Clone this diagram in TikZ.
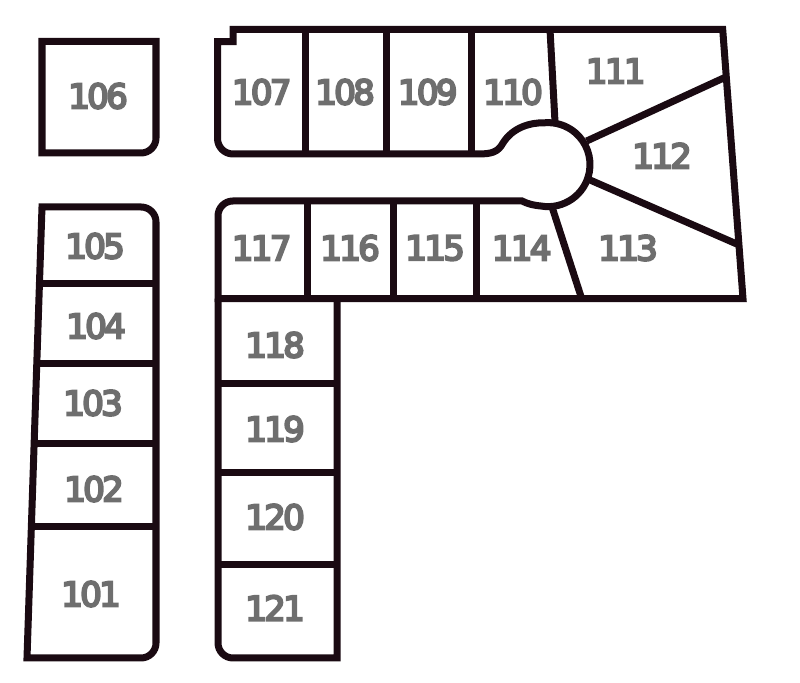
\documentclass[tikz,border=0pt]{standalone}
\usepackage{fontspec}
\newfontfamily\unitfont[FakeBold=6,LetterSpace=-8]{DejaVu Sans}
\definecolor{wallcol}{HTML}{1A0A12}
\definecolor{unitcol}{HTML}{6E6E6E}
\begin{document}
\begin{tikzpicture}[
        x=0.01cm, y=-0.01cm,
        wall/.style={draw=wallcol, line width=0.07cm},
        unit/.style={text=unitcol, inner sep=0pt, font=\unitfont\fontsize{9.7}{10}\selectfont}
    ]
    \useasboundingbox (0,0) rectangle (800,683);
    % Unit 106
    \draw[wall] (42,41.5) -- (156,41.5) -- (156,138) arc[start angle=0, end angle=90, radius=15] -- (42,153) -- cycle;
    % Left block
    \draw[wall] (42,207) -- (141,207) arc[start angle=-90, end angle=0, radius=15] -- (156,643) arc[start angle=0, end angle=90, radius=15] -- (27,658) -- cycle;
    \draw[wall] (40.4,284) -- (156,284);
    \draw[wall] (37.8,364) -- (156,364);
    \draw[wall] (35.1,444) -- (156,444);
    \draw[wall] (32.3,526.7) -- (156,526.7);
    % Upper wing with the turning circle
    \draw[wall] (233,41.7) -- (233,29.5) -- (722.7,29.5) -- (743,298.7) -- (218,298.7)
        -- (218,216) arc[start angle=180, end angle=270, radius=15] -- (522,201)
        .. controls (528,204) and (533,205.2) .. (540.7,206)
        arc[start angle=100, end angle=-95, radius=42]
        .. controls (531,122.5) and (513,127) .. (503,143)
        .. controls (498,152) and (492,154) .. (478,154)
        -- (233,154) arc[start angle=90, end angle=180, radius=15.5] -- (217.5,41.7) -- cycle;
    % Upper wing walls
    \draw[wall] (305,29.5) -- (305,154);
    \draw[wall] (386.7,29.5) -- (386.7,154);
    \draw[wall] (471.7,29.5) -- (471.7,154);
    \draw[wall] (550,29.5) -- (555,122);
    \draw[wall] (726.5,76.7) -- (586.7,141);
    \draw[wall] (739,245) -- (590,180);
    \draw[wall] (551.7,206) -- (581.7,298.7);
    \draw[wall] (307.3,201) -- (307.3,298.7);
    \draw[wall] (393,201) -- (393,298.7);
    \draw[wall] (476.7,201) -- (476.7,298.7);
    % Lower wing
    \draw[wall] (337,298.7) -- (337,658) -- (233,658) arc[start angle=90, end angle=180, radius=15] -- (218,298.7);
    \draw[wall] (218,383.5) -- (337,383.5);
    \draw[wall] (218,472.3) -- (337,472.3);
    \draw[wall] (218,564.3) -- (337,564.3);
    % Labels
    \node[unit] (u101) at (91,594) {101};
    \node[unit] (u102) at (94,489) {102};
    \node[unit] (u103) at (93,403) {103};
    \node[unit] (u104) at (96,326) {104};
    \node[unit] (u105) at (95,246) {105};
    \node[unit] (u106) at (98,96) {106};
    \node[unit] (u107) at (261.7,92) {107};
    \node[unit] (u108) at (345,92) {108};
    \node[unit] (u109) at (427.7,92) {109};
    \node[unit] (u110) at (513,92) {110};
    \node[unit] (u111) at (615.7,71) {111};
    \node[unit] (u112) at (662,155.7) {112};
    \node[unit] (u113) at (628,248) {113};
    \node[unit] (u114) at (521.7,248) {114};
    \node[unit] (u115) at (435,248) {115};
    \node[unit] (u116) at (350,248) {116};
    \node[unit] (u117) at (261.7,248) {117};
    \node[unit] (u118) at (275,345) {118};
    \node[unit] (u119) at (275,429) {119};
    \node[unit] (u120) at (275,517) {120};
    \node[unit] (u121) at (275,608) {121};
\end{tikzpicture}
\end{document}
